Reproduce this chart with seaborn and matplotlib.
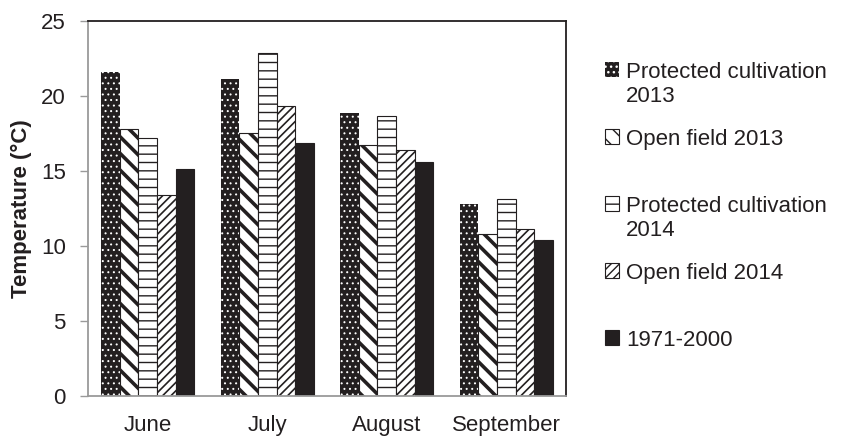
import pandas as pd
import matplotlib
matplotlib.use("Agg")
import matplotlib.pyplot as plt
import seaborn as sns

# Monthly mean temperatures
months = ["June", "July", "August", "September"]
series = ["Protected cultivation\n2013", "Open field 2013",
          "Protected cultivation\n2014", "Open field 2014", "1971-2000"]
prot_2013 = [21.6, 21.1, 18.9, 12.8]
open_2013 = [17.8, 17.5, 16.7, 10.8]
prot_2014 = [17.2, 22.9, 18.7, 13.1]
open_2014 = [13.4, 19.3, 16.4, 11.1]
normal_7100 = [15.1, 16.9, 15.6, 10.4]

values = [prot_2013, open_2013, prot_2014, open_2014, normal_7100]
df = pd.DataFrame({
    "month": [m for _ in series for m in months],
    "series": [s for s in series for _ in months],
    "temp": [v for vals in values for v in vals],
})

sns.set_style("white")
plt.rcParams["font.family"] = ["Liberation Sans", "DejaVu Sans"]
plt.rcParams["hatch.linewidth"] = 1.0

dark = "#231f20"
grey = "#9a9a9a"
fs = 16

fig = plt.figure(figsize=(8.42, 4.36), dpi=100)
ax = fig.add_axes([88 / 842, 40 / 436, 478 / 842, 375 / 436])

sns.barplot(data=df, x="month", y="temp", hue="series", order=months,
            hue_order=series, palette=["white"] * 5, width=0.78,
            saturation=1, legend=False, ax=ax)

# hatch styling for each series: (face, hatch colour, hatch, hatch lw)
styles = [
    (dark, "white", "...", 0.7),
    ("white", dark, "\\\\", 2.6),
    ("white", dark, "--", 1.0),
    ("white", dark, "////", 1.2),
    (dark, dark, None, 1.0),
]
for cont, (fc, hc, hatch, hlw) in zip(ax.containers, styles):
    for p in cont.patches:
        p.set_facecolor(fc)
        p.set_edgecolor(hc)
        p.set_hatch(hatch)
        p.set_linewidth(0 if hc == "white" else 0.8)
        try:
            p.set_hatch_linewidth(hlw)
        except AttributeError:
            pass

ax.set_ylim(0, 25)
ax.set_yticks(range(0, 26, 5))
ax.set_xlim(-0.5, 3.5)
ax.set_xlabel("")
ax.set_ylabel("Temperature (°C)", fontsize=fs, fontweight="bold", color=dark)
ax.yaxis.set_label_coords(-0.118, 0.5)

# category separators as minor ticks on the x axis
ax.set_xticks([-0.5, 0.5, 1.5, 2.5, 3.5], minor=True)
ax.tick_params(axis="x", which="major", length=0, pad=13.5,
               labelsize=fs, labelcolor=dark)
ax.tick_params(axis="x", which="minor", length=6, width=1, color=grey,
               direction="out")
ax.tick_params(axis="y", length=6, width=1, color=grey, direction="out",
               pad=10, labelsize=fs, labelcolor=dark, left=True)

for side in ["left", "bottom"]:
    ax.spines[side].set_color(grey)
    ax.spines[side].set_linewidth(1.3)
for side in ["top", "right"]:
    ax.spines[side].set_color(dark)
    ax.spines[side].set_linewidth(1.3)

handles = [c.patches[0] for c in ax.containers]
labels = [s if "\n" in s else s + "\n" for s in series]
leg = fig.legend(handles, labels, loc="upper left",
                 bbox_to_anchor=(605 / 842, 1 - 62 / 436),
                 frameon=False, fontsize=fs, labelcolor=dark,
                 handlelength=0.65, handleheight=0.65, handletextpad=0.3,
                 labelspacing=0.98, borderpad=0, borderaxespad=0)
for col in leg._legend_handle_box.get_children():
    for item in col.get_children():
        item.align = "top"

fig.savefig("out.png", dpi=100)
